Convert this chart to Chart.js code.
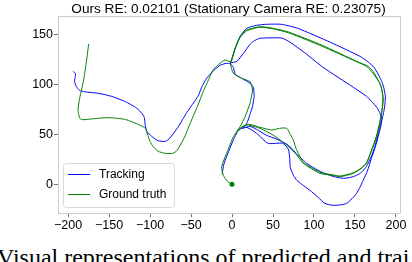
<!DOCTYPE html>
<html>
<head>
<meta charset="utf-8">
<script src="https://cdn.jsdelivr.net/npm/chart.js@4.4.0/dist/chart.umd.min.js"></script>
<style>
  html, body { margin: 0; padding: 0; background: #fff; overflow: hidden; }
  #wrap { position: relative; width: 412px; height: 262px; overflow: hidden; }
  #box { position: absolute; left: 0; top: 0; width: 412px; height: 235px; }
  #caption { position: absolute; left: -3px; top: 245px; font: 24px "Liberation Serif", serif; line-height: 24px; white-space: nowrap; color: #000; }
</style>
</head>
<body>
<div id="wrap">
  <div id="box"><canvas id="traj"></canvas></div>
  <div id="caption">Visual representations of predicted and trai</div>
</div>
<script>
const titleText = 'Ours RE: 0.02101 (Stationary Camera RE: 0.23075)';
const seriesNames = ['Tracking', 'Ground truth'];
const xTicks = [-200, -150, -100, -50, 0, 50, 100, 150, 200];
const yTicks = [0, 50, 100, 150];

// tracking path, [x, y]
const trackingPath = [
  [-12,10],[-10,20],[-4,33],[2,45],[7,53],[12,56],[18,57],
  [30,51],[44,41],[62,41],[68.7,35],[70.5,25],[71,17],[75,9],[79,4],[85,0],[95,-6],[105,-13],[113,-19],
  [123,-21],[133,-20.5],[140,-19],[148,-13],[152,-9],[156,-3],[160,4],[165,13],[170,26],[175,38],[180,53],
  [182,60],[182.5,66],[180,72],[176.5,77],[170,83],[164,88],[148,97],[111,117],[88,132],[71,142],[62,146],
  [58.5,146.5],[34,146],[26,143],[22,140],[14,131],[6,123],[-2,121],
  [1.5,117],[4,110],[10,107],[16,104],[22,101],[26,97],[27,88],[25,78],[22,70],[18,61],[13,56],
  [22,58],[32,54],[42,49],[55,45],[67,40],[74,35],[79,30],[86,25],[91,21],[105,14],[119,9],[128,7],[136,6],
  [145,7],[152,9],[158,12],[164,18],[170,28],[174,37],[177,46],[180,57],[183,65],[185,72],[186.5,80],[187,88],
  [185,97],[182,104],[177,112],[172,118],[165,123],[156,128],[120,142],[80,156],[60,160],[42,160],[30,159],
  [18,156],[10,148],[4,136],[-2,121],
  [-7,121],[-14.6,119],[-22,114],[-31,106],[-37,97],[-41.5,88],[-55,72],[-66,57],[-76,46],[-81,43],[-90,43.5],
  [-98,48],[-104,53],[-106,60],[-107,67],[-110,71],[-116,76],[-124,80],[-131,83],[-147,88],[-163,91],
  [-180,92.5],[-186,94],[-190,98],[-192,103],[-191,108],[-191,111],[-194,113]
];

// ground truth path, [x, y], starts at the marked point
const truthPath = [
  [0,0],[-6,3.5],[-10.6,9],[-12.6,17.6],[-6.5,31],[1.6,47.6],[7.7,54.3],[14,58.5],[20,59.3],[34,56],[50,49.3],
  [66.7,39.3],[79,29.3],[87,21],[107,11],[123,9],[132,7.6],[148,11],[158,16],[164,21],[170,33],[176.5,47.6],
  [180,60],[182.5,71],[184.5,85],[182,97],[179,103],[172,113],[166,118],[152,123],[110,139],[70,152],[50.4,156],
  [34,157.6],[18,154.3],[9.8,147.6],[3.7,136],[-0.4,124.3],[-2,121],
  [1.6,111],[11.8,106],[22,102.6],[25,94.3],[23,85],[22,81],[16,67.6],[9.8,57.6],[5.7,52.6],
  [12,57],[20,60],[34,57],[48.4,54.3],[58,56],[66.7,56],[71,50],[74.8,44.3],[78,36],[80.9,31],[87,22],[107,12],
  [123,9.5],[132,8.3],[148,11.5],[158,16.5],[164,21.5],[170,34],[176,48],[179.6,60],[182.5,72],[184,84],
  [183.7,90],[181,100],[178,104],[170,113],[164,118],[152,122.6],[110,138],[70.7,151],[50,155.5],[34,157],
  [18,153.5],[10,147],[4,136],[-1,124],[-2.4,122.6],
  [-8.5,124.3],[-14.6,121],[-18.7,118],[-22.8,115],[-30,102],[-35,93],[-41.5,79.3],[-50,63],[-58,47],
  [-66.7,34.3],[-72,31],[-81.7,31],[-90,33],[-96,37.6],[-100,43],[-103,50],[-105.7,56],[-112.6,59.3],
  [-125,63.5],[-131,65],[-140,66],[-151,66.6],[-163,66],[-172,65.3],[-184.5,65],[-187.8,74],[-186,85],
  [-184.5,91],[-181,104],[-178,120],[-176.5,129],[-174.8,140.3]
];

const FONT = '"Liberation Sans", Arial, sans-serif';
const toPoints = arr => arr.map(p => ({ x: p[0], y: p[1] }));
const fmt = v => (v < 0 ? '\u2212' + Math.abs(v) : String(v));

// box round the axes, drawn over the lines like matplotlib spines
const framePlugin = {
  id: 'frame',
  afterDatasetsDraw(chart) {
    const { ctx, chartArea: a } = chart;
    ctx.save();
    ctx.strokeStyle = '#cccccc';
    ctx.lineWidth = 1;
    ctx.strokeRect(Math.round(a.left) + 0.5, Math.round(a.top) + 0.5,
      Math.round(a.right - a.left) - 1, Math.round(a.bottom - a.top) - 1);
    ctx.restore();
  }
};

// title centred over the plot area, not the whole canvas
const titlePlugin = {
  id: 'areaTitle',
  afterDraw(chart) {
    const { ctx, chartArea: a } = chart;
    ctx.save();
    ctx.font = '13.6px ' + FONT;
    ctx.fillStyle = '#000';
    ctx.textAlign = 'center';
    ctx.textBaseline = 'alphabetic';
    ctx.fillText(titleText, (a.left + a.right) / 2 - 1, 12.5);
    ctx.restore();
  }
};

const legendPlugin = {
  id: 'innerLegend',
  afterDraw(chart) {
    const { ctx, chartArea } = chart;
    const x = Math.round(chartArea.left) + 5, y = Math.round(chartArea.bottom) - 50;
    const w = 111, h = 44;
    ctx.save();
    ctx.fillStyle = 'rgba(255,255,255,0.85)';
    ctx.strokeStyle = '#d9d9d9';
    ctx.lineWidth = 1;
    ctx.beginPath();
    ctx.roundRect(x + 0.5, y + 0.5, w, h, 3);
    ctx.fill();
    ctx.stroke();
    ctx.font = '12px ' + FONT;
    ctx.textBaseline = 'middle';
    chart.data.datasets.forEach((ds, i) => {
      const ly = y + 11.5 + i * 20;
      ctx.strokeStyle = ds.borderColor;
      ctx.lineWidth = 1;
      ctx.beginPath();
      ctx.moveTo(x + 5, ly);
      ctx.lineTo(x + 27, ly);
      ctx.stroke();
      ctx.fillStyle = '#000';
      ctx.fillText(ds.label, x + 36, ly);
    });
    ctx.restore();
  }
};

const axisGrid = {
  display: true,
  drawOnChartArea: false,
  drawTicks: true,
  tickLength: 4,
  tickColor: '#555',
  tickWidth: 0.8
};

new Chart(document.getElementById('traj'), {
  type: 'scatter',
  data: {
    datasets: [
      {
        label: seriesNames[0],
        data: toPoints(trackingPath),
        showLine: true,
        borderColor: '#0000ff',
        backgroundColor: '#0000ff',
        borderWidth: 1,
        pointRadius: 0,
        tension: 0.2,
        order: 1
      },
      {
        label: seriesNames[1],
        data: toPoints(truthPath),
        showLine: true,
        borderColor: '#008000',
        backgroundColor: '#008000',
        borderWidth: 1,
        pointRadius: c => (c.dataIndex === 0 ? 2.5 : 0),
        pointBorderWidth: 0,
        tension: 0.2,
        order: 0
      }
    ]
  },
  options: {
    responsive: true,
    maintainAspectRatio: false,
    animation: false,
    layout: { padding: { left: 0, right: 11, top: 15.7, bottom: 0 } },
    plugins: {
      legend: { display: false },
      tooltip: { enabled: false },
      title: { display: false }
    },
    scales: {
      x: {
        type: 'linear',
        min: -212.2,
        max: 206.1,
        afterBuildTicks: s => { s.ticks = xTicks.map(v => ({ value: v })); },
        afterFit: s => { s.height = 21.7; },
        ticks: {
          autoSkip: false,
          maxRotation: 0,
          padding: 1,
          color: '#000',
          font: { family: FONT, size: 12.5 },
          callback: v => fmt(v)
        },
        grid: axisGrid,
        border: { display: false }
      },
      y: {
        type: 'linear',
        min: -29,
        max: 168.6,
        afterBuildTicks: s => { s.ticks = yTicks.map(v => ({ value: v })); },
        afterFit: s => { s.width = 58; },
        ticks: {
          autoSkip: false,
          padding: 1,
          color: '#000',
          font: { family: FONT, size: 12.5 },
          callback: v => fmt(v)
        },
        grid: axisGrid,
        border: { display: false }
      }
    }
  },
  plugins: [framePlugin, titlePlugin, legendPlugin]
});
</script>
</body>
</html>
